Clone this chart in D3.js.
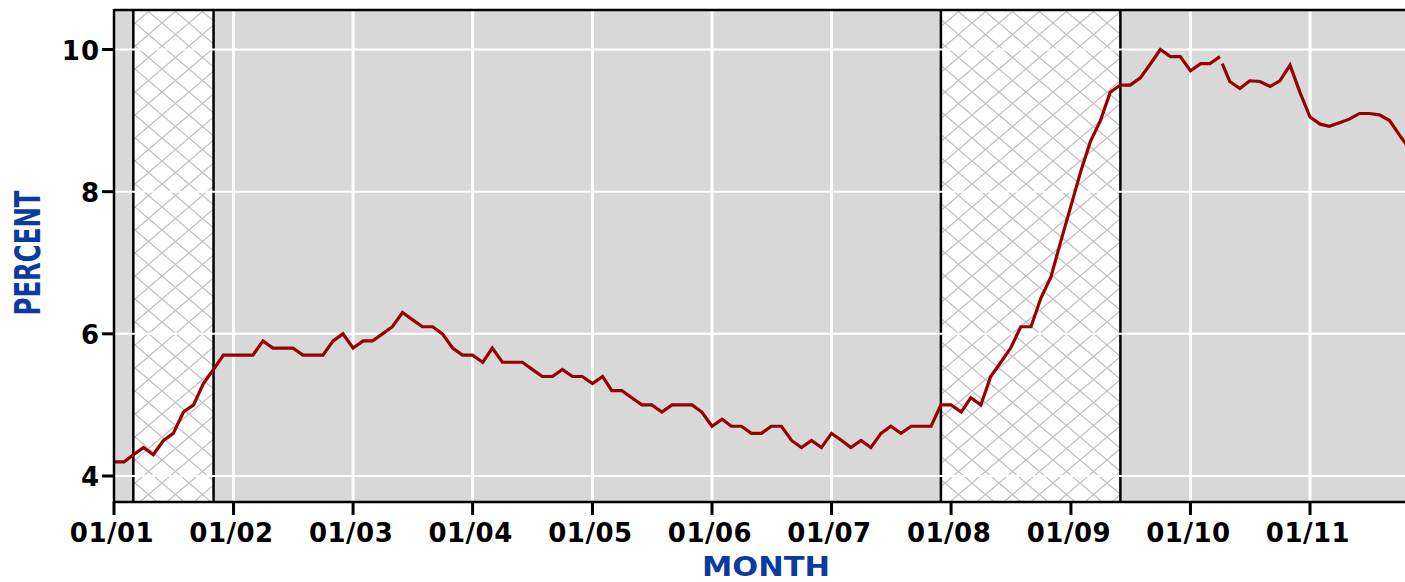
<html>
<head>
<meta charset="utf-8">
<title>unemployment</title>
<script src="https://d3js.org/d3.v7.min.js"></script>
<style>
body { margin: 0; background: #ffffff; }
.tickLabel { font-family: 'DejaVu Sans', sans-serif; font-weight: bold; font-size: 26px; fill: #000000; }
.axisTitle { font-family: 'DejaVu Sans', sans-serif; font-weight: bold; fill: #0b3b9f; }
</style>
</head>
<body>
<script>
// monthly unemployment rate, Jan 2001 .. Apr 2010
var startMonth = '2001-01';
var rates = [
  4.2, 4.2, 4.3, 4.4, 4.3, 4.5, 4.6, 4.9, 5.0, 5.3, 5.5, 5.7,
  5.7, 5.7, 5.7, 5.9, 5.8, 5.8, 5.8, 5.7, 5.7, 5.7, 5.9, 6.0,
  5.8, 5.9, 5.9, 6.0, 6.1, 6.3, 6.2, 6.1, 6.1, 6.0, 5.8, 5.7,
  5.7, 5.6, 5.8, 5.6, 5.6, 5.6, 5.5, 5.4, 5.4, 5.5, 5.4, 5.4,
  5.3, 5.4, 5.2, 5.2, 5.1, 5.0, 5.0, 4.9, 5.0, 5.0, 5.0, 4.9,
  4.7, 4.8, 4.7, 4.7, 4.6, 4.6, 4.7, 4.7, 4.5, 4.4, 4.5, 4.4,
  4.6, 4.5, 4.4, 4.5, 4.4, 4.6, 4.7, 4.6, 4.7, 4.7, 4.7, 5.0,
  5.0, 4.9, 5.1, 5.0, 5.4, 5.6, 5.8, 6.1, 6.1, 6.5, 6.8, 7.3,
  7.8, 8.3, 8.7, 9.0, 9.4, 9.5, 9.5, 9.6, 9.8, 10.0, 9.9, 9.9,
  9.7, 9.8, 9.8, 9.9
];
// second piece of the line (starts again just after the break in April 2010)
var recentDates = ['2010-04-08', '2010-05-01', '2010-06-01', '2010-07-01', '2010-08-01', '2010-09-01',
  '2010-10-01', '2010-11-01', '2010-12-01', '2011-01-01', '2011-02-01', '2011-03-01', '2011-04-01',
  '2011-05-01', '2011-06-01', '2011-07-01', '2011-08-01', '2011-09-01', '2011-10-01', '2011-11-01'];
var recentRates = [9.8, 9.55, 9.45, 9.56, 9.55, 9.48, 9.56, 9.78, 9.4, 9.05, 8.95, 8.92, 8.97,
  9.02, 9.1, 9.1, 9.08, 9.0, 8.8, 8.6];

var recessionStart = ['2001-03-01', '2007-12-01'];
var recessionEnd = ['2001-11-01', '2009-06-01'];

var yTicks = [4, 6, 8, 10];
var xTickYears = [2001, 2002, 2003, 2004, 2005, 2006, 2007, 2008, 2009, 2010, 2011];

var W = 1405, H = 582;
var plotLeft = 114, plotTop = 10, plotBottom = 502, plotRight = 1405;

var parse = d3.timeParse('%Y-%m-%d');
var start = parse(startMonth + '-01');
var mainData = rates.map(function(v, i) { return { date: d3.timeMonth.offset(start, i), value: v }; });
var recentData = recentRates.map(function(v, i) { return { date: parse(recentDates[i]), value: v }; });

var x = d3.scaleTime()
  .domain([new Date(2001, 0, 1), new Date(2011, 0, 1)])
  .range([114, 1310]);
var y = d3.scaleLinear()
  .domain([4, 10])
  .range([476, 49.5]);

var svg = d3.select('body').append('svg')
  .attr('width', W)
  .attr('height', H);

var defs = svg.append('defs');
var pat = defs.append('pattern')
  .attr('id', 'hatch')
  .attr('patternUnits', 'userSpaceOnUse')
  .attr('width', 27)
  .attr('height', 23);
pat.append('rect').attr('width', 27).attr('height', 23).attr('fill', '#ffffff');
pat.append('path')
  .attr('d', 'M0,0 L27,23 M27,0 L0,23')
  .attr('stroke', '#c0c0c0')
  .attr('stroke-width', 1.3)
  .attr('fill', 'none');

// plot background
svg.append('rect')
  .attr('x', plotLeft)
  .attr('y', plotTop)
  .attr('width', plotRight - plotLeft)
  .attr('height', plotBottom - plotTop)
  .attr('fill', '#d8d8d8');

// vertical grid sits under the hatched recessions
var xTicks = xTickYears.map(function(yr) { return new Date(yr, 0, 1); });
svg.selectAll('.vgrid')
  .data(xTicks.slice(1)).enter().append('line')
  .attr('x1', function(d) { return x(d); })
  .attr('x2', function(d) { return x(d); })
  .attr('y1', plotTop)
  .attr('y2', plotBottom)
  .attr('stroke', '#ffffff')
  .attr('stroke-width', 3);

// recessions
var rec = recessionStart.map(function(s, i) { return [parse(s), parse(recessionEnd[i])]; });
svg.selectAll('.recession')
  .data(rec).enter().append('rect')
  .attr('class', 'recession')
  .attr('x', function(d) { return x(d[0]); })
  .attr('y', plotTop)
  .attr('width', function(d) { return x(d[1]) - x(d[0]); })
  .attr('height', plotBottom - plotTop)
  .attr('fill', 'url(#hatch)');

var edges = [];
rec.forEach(function(d) { edges.push(d[0]); edges.push(d[1]); });
svg.selectAll('.recEdge')
  .data(edges).enter().append('line')
  .attr('class', 'recEdge')
  .attr('x1', function(d) { return x(d); })
  .attr('x2', function(d) { return x(d); })
  .attr('y1', plotTop)
  .attr('y2', plotBottom)
  .attr('stroke', '#000000')
  .attr('stroke-width', 2.5);

// horizontal grid
svg.selectAll('.hgrid')
  .data(yTicks).enter().append('line')
  .attr('x1', plotLeft)
  .attr('x2', plotRight)
  .attr('y1', function(d) { return y(d); })
  .attr('y2', function(d) { return y(d); })
  .attr('stroke', '#ffffff')
  .attr('stroke-width', 2);

// the series
var line = d3.line()
  .x(function(d) { return x(d.date); })
  .y(function(d) { return y(d.value); });
[mainData, recentData].forEach(function(data) {
  svg.append('path')
    .datum(data)
    .attr('d', line)
    .attr('fill', 'none')
    .attr('stroke', '#990000')
    .attr('stroke-width', 3.2)
    .attr('stroke-linejoin', 'miter');
});

// frame
svg.append('line')
  .attr('x1', plotLeft).attr('x2', plotRight)
  .attr('y1', plotTop).attr('y2', plotTop)
  .attr('stroke', '#000').attr('stroke-width', 2.5);
svg.append('line')
  .attr('x1', plotLeft).attr('x2', plotRight)
  .attr('y1', plotBottom).attr('y2', plotBottom)
  .attr('stroke', '#000').attr('stroke-width', 2.5);
svg.append('line')
  .attr('x1', plotLeft).attr('x2', plotLeft)
  .attr('y1', plotTop - 1).attr('y2', plotBottom + 1)
  .attr('stroke', '#000').attr('stroke-width', 2.5);

// y ticks + labels
svg.selectAll('.ytick')
  .data(yTicks).enter().append('line')
  .attr('x1', plotLeft - 12).attr('x2', plotLeft)
  .attr('y1', function(d) { return y(d); })
  .attr('y2', function(d) { return y(d); })
  .attr('stroke', '#000').attr('stroke-width', 3);
svg.selectAll('.ylab')
  .data(yTicks).enter().append('text')
  .attr('class', 'tickLabel')
  .attr('x', plotLeft - 14)
  .attr('y', function(d) { return y(d) + 10; })
  .attr('text-anchor', 'end')
  .attr('letter-spacing', 1)
  .text(function(d) { return d; });

// x ticks + labels
var fmt = d3.timeFormat('%m/%y');
svg.selectAll('.xtick')
  .data(xTicks).enter().append('line')
  .attr('x1', function(d) { return x(d); })
  .attr('x2', function(d) { return x(d); })
  .attr('y1', plotBottom)
  .attr('y2', plotBottom + 13)
  .attr('stroke', '#000').attr('stroke-width', 3);
svg.selectAll('.xlab')
  .data(xTicks).enter().append('text')
  .attr('class', 'tickLabel')
  .attr('x', function(d) { return x(d) - 2; })
  .attr('y', 542)
  .attr('text-anchor', 'middle')
  .attr('letter-spacing', 0.5)
  .text(function(d) { return fmt(d); });

// axis titles
svg.append('text')
  .attr('class', 'axisTitle')
  .attr('transform', 'translate(40,253) rotate(-90)')
  .attr('text-anchor', 'middle')
  .style('font-size', '36px')
  .attr('textLength', 125)
  .attr('lengthAdjust', 'spacingAndGlyphs')
  .text('PERCENT');
svg.append('text')
  .attr('class', 'axisTitle')
  .attr('x', 766)
  .attr('y', 576)
  .attr('text-anchor', 'middle')
  .style('font-size', '26px')
  .attr('textLength', 128)
  .attr('lengthAdjust', 'spacingAndGlyphs')
  .text('MONTH');
</script>
</body>
</html>
